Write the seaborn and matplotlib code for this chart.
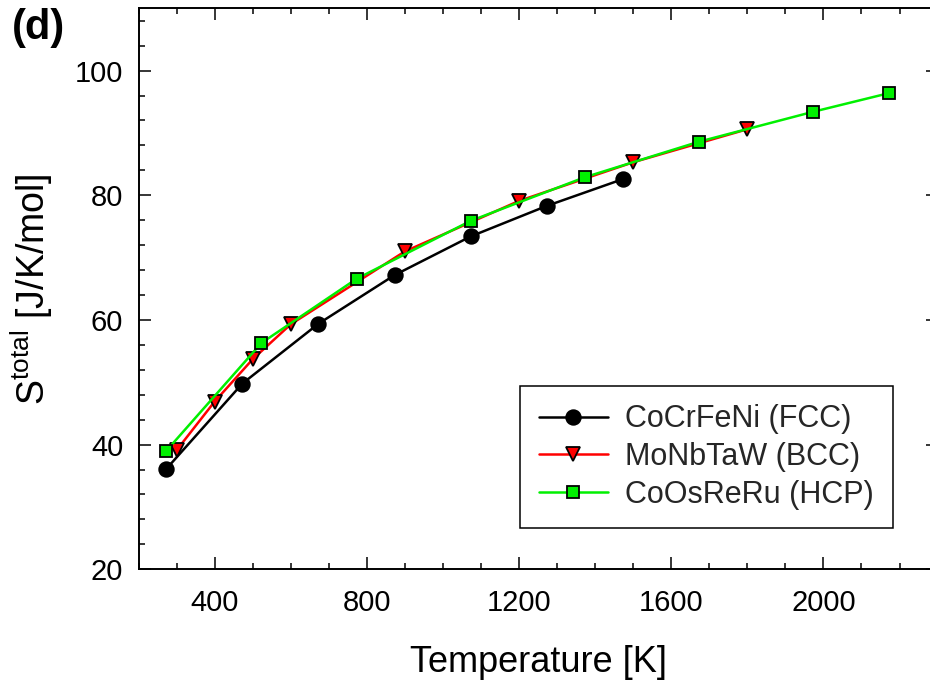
import matplotlib
matplotlib.use("Agg")
import matplotlib.pyplot as plt
import seaborn as sns
import pandas as pd
from matplotlib.ticker import MultipleLocator

# ---- data ----
fcc_T = [273, 473, 673, 873, 1073, 1273, 1473]
fcc_S = [36.1, 49.8, 59.4, 67.2, 73.4, 78.3, 82.6]
bcc_T = [300, 400, 500, 600, 900, 1200, 1500, 1800]
bcc_S = [39.1, 46.9, 53.7, 59.3, 71.0, 79.1, 85.3, 90.6]
hcp_T = [273, 523, 773, 1073, 1373, 1673, 1973, 2173]
hcp_S = [39.0, 56.3, 66.6, 75.9, 82.9, 88.6, 93.4, 96.4]

labels = ["CoCrFeNi (FCC)", "MoNbTaW (BCC)", "CoOsReRu (HCP)"]
x_ticks = [400, 800, 1200, 1600, 2000]
y_ticks = [20, 40, 60, 80, 100]

colors = ["#000000", "#ff0000", "#00f000"]
markers = ["o", "v", "s"]
msizes = [10.5, 9.5, 9.0]

sns.set_theme(style="ticks")
plt.rcParams["font.family"] = ["Liberation Sans", "DejaVu Sans"]
plt.rcParams["mathtext.fontset"] = "custom"
plt.rcParams["mathtext.rm"] = "Liberation Sans"
plt.rcParams["mathtext.it"] = "Liberation Sans:italic"
plt.rcParams["mathtext.bf"] = "Liberation Sans:bold"

fig = plt.figure(figsize=(9.3, 6.85), dpi=100)
ax = fig.add_axes([138.5 / 930, (685 - 569.3) / 685, 799.1 / 930, 561 / 685])

series = [(fcc_T, fcc_S), (bcc_T, bcc_S), (hcp_T, hcp_S)]
for (T, S), lab, c, m, ms in zip(series, labels, colors, markers, msizes):
    df = pd.DataFrame({"T": T, "S": S})
    sns.lineplot(data=df, x="T", y="S", ax=ax, color=c, marker=m,
                 markersize=ms, markeredgecolor="black", markeredgewidth=1.3,
                 markerfacecolor=c, linewidth=1.8, label=lab, sort=False,
                 estimator=None)

ax.set_xlim(200, 2300)
ax.set_ylim(20, 110)
ax.set_xticks(x_ticks)
ax.set_yticks(y_ticks)
ax.xaxis.set_minor_locator(MultipleLocator(100))
ax.yaxis.set_minor_locator(MultipleLocator(4))
ax.tick_params(which="both", direction="in", top=True, right=True,
               color="black", width=1.1, labelsize=21, labelcolor="black")
ax.tick_params(which="major", length=8.6)
ax.tick_params(which="minor", length=4.3)
ax.tick_params(axis="y", pad=11)
ax.tick_params(axis="x", pad=14)
for sp in ax.spines.values():
    sp.set_linewidth(1.4)
    sp.set_color("black")

ax.set_xlabel("Temperature [K]", fontsize=26, labelpad=20, color="black")
ax.set_ylabel(r"S$^{\mathrm{total}}$ [J/K/mol]", fontsize=27, labelpad=14,
              color="black")

leg = ax.legend(loc="lower right", bbox_to_anchor=(0.9438, 0.0731),
                borderaxespad=0, fontsize=22, frameon=True, fancybox=False,
                edgecolor="black", framealpha=1, handlelength=2.24,
                handletextpad=0.58, borderpad=0.61, labelspacing=0.25)
leg.get_frame().set_linewidth(1.1)

fig.text(12 / 930, 1 - 8 / 685, "(d)", fontsize=30, fontweight="bold",
         va="top", ha="left", color="black")

fig.savefig("out.png", dpi=100)
